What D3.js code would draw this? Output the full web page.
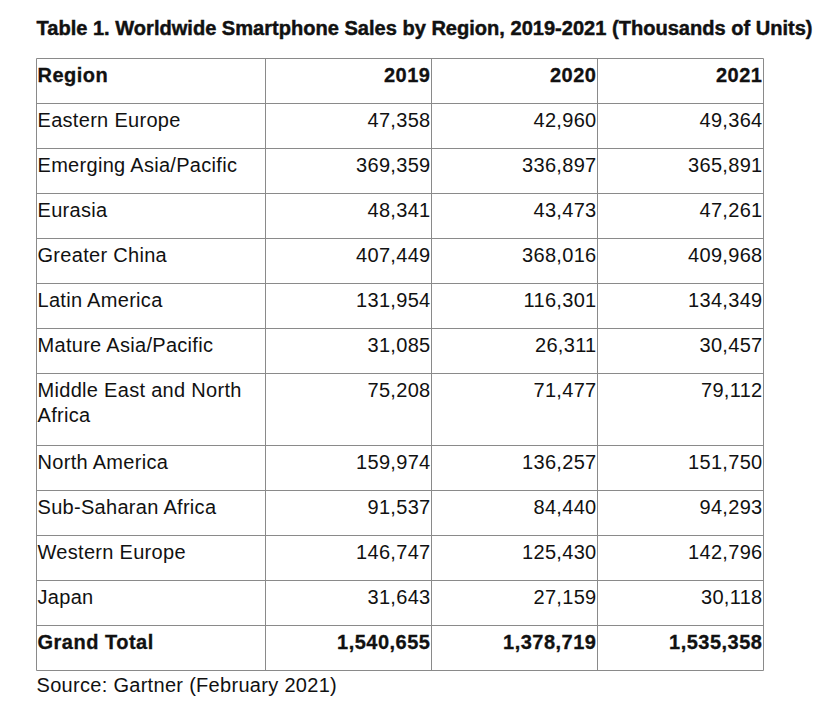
<!DOCTYPE html>
<html>
  <head>
    <meta charset="utf-8">
    <title>Worldwide Smartphone Sales by Region</title>
    <script src="https://d3js.org/d3.v7.min.js"></script>
    <style>
      body { margin: 0; background: #fff; }
      text { font-family: "Liberation Sans", Arial, sans-serif; fill: #111; }
      .cell { font-size: 20px; letter-spacing: 0.3px; }
      .bold .cell { font-weight: bold; letter-spacing: 0.5px; stroke: #111; stroke-width: 0.3px; }
      .title { font-weight: bold; stroke: #111; stroke-width: 0.45px; }
    </style>
  </head>
  <body>
    <svg id="table" width="836" height="711"></svg>
    <script>
      // data
      const title = "Table 1. Worldwide Smartphone Sales by Region, 2019-2021 (Thousands of Units)";
      const source = "Source: Gartner (February 2021)";
      const years = ["2019", "2020", "2021"];
      const regions = [
        ["Eastern Europe"],
        ["Emerging Asia/Pacific"],
        ["Eurasia"],
        ["Greater China"],
        ["Latin America"],
        ["Mature Asia/Pacific"],
        ["Middle East and North", "Africa"],
        ["North America"],
        ["Sub-Saharan Africa"],
        ["Western Europe"],
        ["Japan"]
      ];
      const sales2019 = [47358, 369359, 48341, 407449, 131954, 31085, 75208, 159974, 91537, 146747, 31643];
      const sales2020 = [42960, 336897, 43473, 368016, 116301, 26311, 71477, 136257, 84440, 125430, 27159];
      const sales2021 = [49364, 365891, 47261, 409968, 134349, 30457, 79112, 151750, 94293, 142796, 30118];
      const totals = [1540655, 1378719, 1535358];

      // layout
      const svg = d3.select("#table");
      const tableLeft = 36.5, tableTop = 58.5;
      const colWidths = [229, 166, 166, 166];
      const rowH = 45, extraLineH = 27, lineH = 25;
      const colX = [tableLeft];
      colWidths.forEach(w => colX.push(colX[colX.length - 1] + w));
      const fmt = d3.format(",");

      const rows = [{ cells: [["Region"]].concat(years.map(y => [y])), bold: true }];
      regions.forEach((r, i) => {
        rows.push({ cells: [r, [fmt(sales2019[i])], [fmt(sales2020[i])], [fmt(sales2021[i])]], bold: false });
      });
      rows.push({ cells: [["Grand Total"]].concat(totals.map(t => [fmt(t)])), bold: true });
      let yPos = tableTop;
      rows.forEach(r => {
        const lines = d3.max(r.cells, c => c.length);
        r.y = yPos;
        r.h = rowH + (lines - 1) * extraLineH;
        yPos += r.h;
      });
      const tableBottom = yPos;

      // title
      svg.append("text")
        .attr("class", "title")
        .attr("x", tableLeft)
        .attr("y", 35)
        .attr("font-size", 20)
        .attr("textLength", 776)
        .attr("lengthAdjust", "spacingAndGlyphs")
        .text(title);

      // grid
      const grid = svg.append("g")
        .attr("stroke", "#8a8a8a")
        .attr("stroke-width", 1)
        .attr("fill", "none");
      grid.selectAll(".h")
          .data(rows.map(r => r.y).concat([tableBottom]))
        .enter().append("line")
          .attr("x1", colX[0]).attr("x2", colX[colX.length - 1])
          .attr("y1", d => d).attr("y2", d => d);
      grid.selectAll(".v")
          .data(colX)
        .enter().append("line")
          .attr("x1", d => d).attr("x2", d => d)
          .attr("y1", tableTop).attr("y2", tableBottom);

      // cells
      const rowG = svg.selectAll(".row")
          .data(rows)
        .enter().append("g")
          .attr("class", d => d.bold ? "row bold" : "row")
          .attr("transform", d => `translate(0,${d.y})`);
      rowG.each(function(r) {
        const g = d3.select(this);
        r.cells.forEach((lines, ci) => {
          const xPos = ci === 0 ? colX[0] + 1 : colX[ci + 1] - 1;
          const t = g.append("text")
            .attr("class", "cell")
            .attr("text-anchor", ci === 0 ? "start" : "end");
          lines.forEach((l, li) => {
            t.append("tspan")
              .attr("x", xPos)
              .attr("y", 23 + li * lineH)
              .text(l);
          });
        });
      });

      // source
      svg.append("text")
        .attr("class", "cell")
        .attr("x", tableLeft)
        .attr("y", 692)
        .text(source);
    </script>
  </body>
</html>
